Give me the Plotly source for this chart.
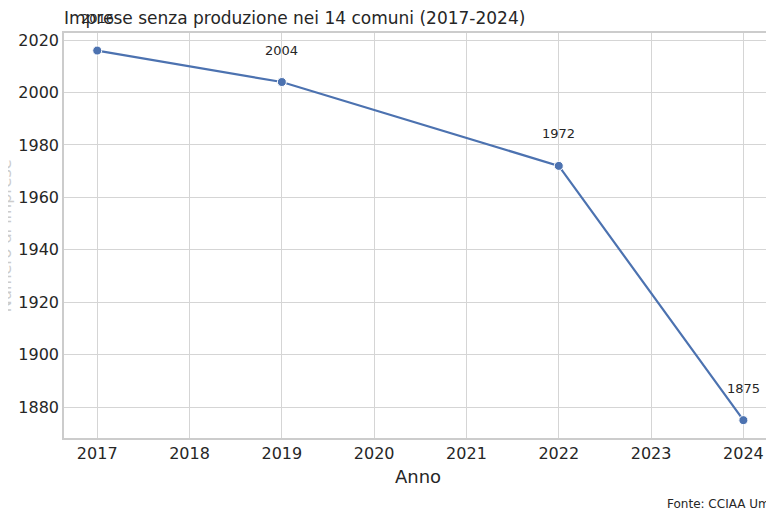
import plotly.graph_objects as go

years = [2017, 2019, 2022, 2024]
values = [2016, 2004, 1972, 1875]
yticks = [1880, 1900, 1920, 1940, 1960, 1980, 2000, 2020]
xticks = [2017, 2018, 2019, 2020, 2021, 2022, 2023, 2024]

OFF = 8
W, H = 774 - OFF, 516 - OFF
ml, mr, mt, mb = 64 - OFF, 0, 33 - OFF, 78
pw = W - ml - mr

fig = go.Figure()
fig.add_trace(go.Scatter(x=years, y=values, mode="lines+markers",
    line=dict(color="#4c72b0", width=2.2), marker=dict(size=9, color="#4c72b0", line=dict(color="white", width=1)),
    hoverinfo="skip"))
for x, y in zip(years, values):
    fig.add_annotation(x=x, y=y, text=str(y), showarrow=False, yshift=32,
                       font=dict(size=13, color="#262626"))
fig.add_annotation(xref="paper", yref="paper", x=(667 - 64) / pw, y=-0.185, xanchor="left", yanchor="bottom",
                   text="Fonte: CCIAA Umbria", showarrow=False, font=dict(size=12, color="#262626"))
fig.add_annotation(xref="paper", yref="paper", x=(-70) / pw, y=0.5, textangle=-90,
                   text="Numero di imprese", showarrow=False, font=dict(size=16, color="#cccccc"))
fig.update_layout(
    width=W, height=H, margin=dict(l=ml, r=mr, t=mt, b=mb),
    paper_bgcolor="white", plot_bgcolor="white", showlegend=False,
    font=dict(family="DejaVu Sans", color="#262626"),
    title=dict(text="Imprese senza produzione nei 14 comuni (2017-2024)", x=(64 - OFF) / W, xanchor="left",
               y=1 - (18 - OFF) / H, yanchor="middle", font=dict(size=17, color="#262626")),
    xaxis=dict(range=[2016.64, 2024.31], tickvals=xticks, gridcolor="#d5d5d5", gridwidth=1.3,
               showline=True, linecolor="#cccccc", linewidth=1.5, mirror=True, zeroline=False,
               tickfont=dict(size=16), title=dict(text="Anno", font=dict(size=18), standoff=8)),
    yaxis=dict(range=[1868.2, 2022.7], tickvals=yticks, gridcolor="#d5d5d5", gridwidth=1.3,
               showline=True, linecolor="#cccccc", linewidth=1.5, mirror=True, zeroline=False,
               tickfont=dict(size=16)),
)
fig.write_html("out.html")
